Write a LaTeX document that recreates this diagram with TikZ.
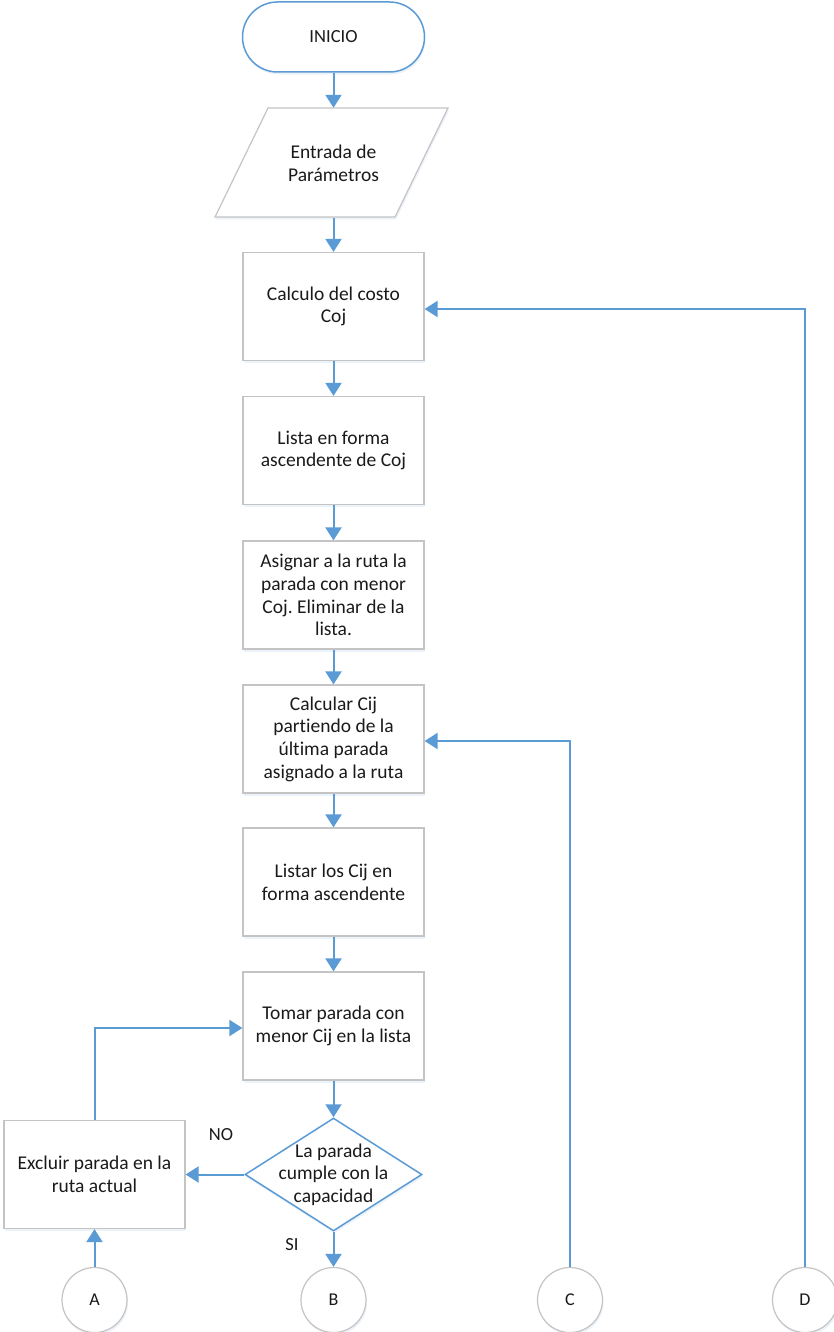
\documentclass[tikz,border=0pt]{standalone}
\usepackage{fontspec}
\setmainfont{Carlito}[Ligatures=NoCommon]
\usetikzlibrary{arrows.meta,shapes.geometric,shadows}
\definecolor{lineblue}{HTML}{5B9BD5}
\definecolor{boxgray}{HTML}{C4C4C4}
\definecolor{txt}{HTML}{1A1A1A}
\frenchspacing
\begin{document}
\begin{tikzpicture}[x=1pt,y=-1pt,
  font=\fontsize{19.5}{22.7}\selectfont, text=txt,
  shad/.style={drop shadow={opacity=0.12, shadow xshift=1pt, shadow yshift=-2.5pt, fill=lineblue}},
  box/.style={draw=boxgray, line width=1.2pt, fill=white, minimum width=181pt, minimum height=108pt, align=center, inner sep=0pt, shad},
  conn/.style={draw=lineblue, line width=2pt},
  arr/.style={conn, -{Triangle[width=16pt,length=13pt]}},
  circ/.style={circle, draw=boxgray, line width=1.2pt, fill=white, minimum size=65pt, inner sep=0pt, shad, font=\fontsize{18}{20}\selectfont},
  lbl/.style={font=\fontsize{18.5}{20}\selectfont}]
\useasboundingbox[fill=white] (0,0) rectangle (834,1332);

\node[draw=lineblue, line width=1.5pt, fill=white, rounded corners=35pt, minimum width=182pt, minimum height=70pt, inner sep=0pt, shad, font=\fontsize{18.5}{20}\selectfont] (start) at (333.5,37) {INICIO};

\fill[white, shad] (268,108) -- (448,108) -- (395,217) -- (215,217) -- cycle;
\draw[boxgray, line width=1.2pt] (268,108) -- (448,108) -- (395,217) -- (215,217) -- cycle;
\node[minimum width=180pt, minimum height=109pt, inner sep=0pt, align=center] (par) at (333.5,163.5) {Entrada de\\Parámetros};

\node[box] (b1) at (333.5,306.5) {Calculo del costo\\Coj};
\node[box] (b2) at (333.5,450.5) {Lista en forma\\ascendente de Coj};
\node[box] (b3) at (333.5,595) {Asignar a la ruta la\\parada con menor\\Coj. Eliminar de la\\lista.};
\node[box] (b4) at (333.5,739) {Calcular Cij\\partiendo de la\\última parada\\asignado a la ruta};
\node[box] (b5) at (333.5,882) {Listar los Cij en\\forma ascendente};
\node[box] (b6) at (333.5,1026) {Tomar parada con\\menor Cij en la lista};

\node[diamond, draw=lineblue, line width=1.5pt, fill=white, minimum width=177pt, minimum height=113pt, inner sep=0pt, shad] (dec) at (333.5,1174.5) {};
\node[align=center, inner sep=0pt] (dect) at (dec.center) {La parada\\cumple con la\\capacidad};

\node[box] (ex) at (94.5,1174.5) {Excluir parada en la\\ruta actual};

\node[circ] (A) at (94.5,1300) {A};
\node[circ] (B) at (333.5,1300) {B};
\node[circ] (C) at (570,1300) {C};
\node[circ] (D) at (805,1300) {D};

\node[lbl] (no) at (221,1135) {NO};
\node[lbl] (si) at (292,1245) {SI};

\draw[arr] (start.south) -- ([yshift=1pt]par.north);
\draw[arr] (par.south) -- (b1.north);
\draw[arr] (b1.south) -- (b2.north);
\draw[arr] (b2.south) -- (b3.north);
\draw[arr] (b3.south) -- (b4.north);
\draw[arr] (b4.south) -- (b5.north);
\draw[arr] (b5.south) -- (b6.north);
\draw[arr] (b6.south) -- (dec.north);
\draw[arr] (dec.west) -- (ex.east);
\draw[arr] (dec.south) -- (B.north);
\draw[arr] (A.north) -- (ex.south);
\draw[arr] (ex.north) |- ([yshift=-2pt]b6.west);
\draw[arr] (C.north) |- ([yshift=-2pt]b4.east);
\draw[arr] (D.north) |- ([yshift=-2.5pt]b1.east);
\end{tikzpicture}
\end{document}
